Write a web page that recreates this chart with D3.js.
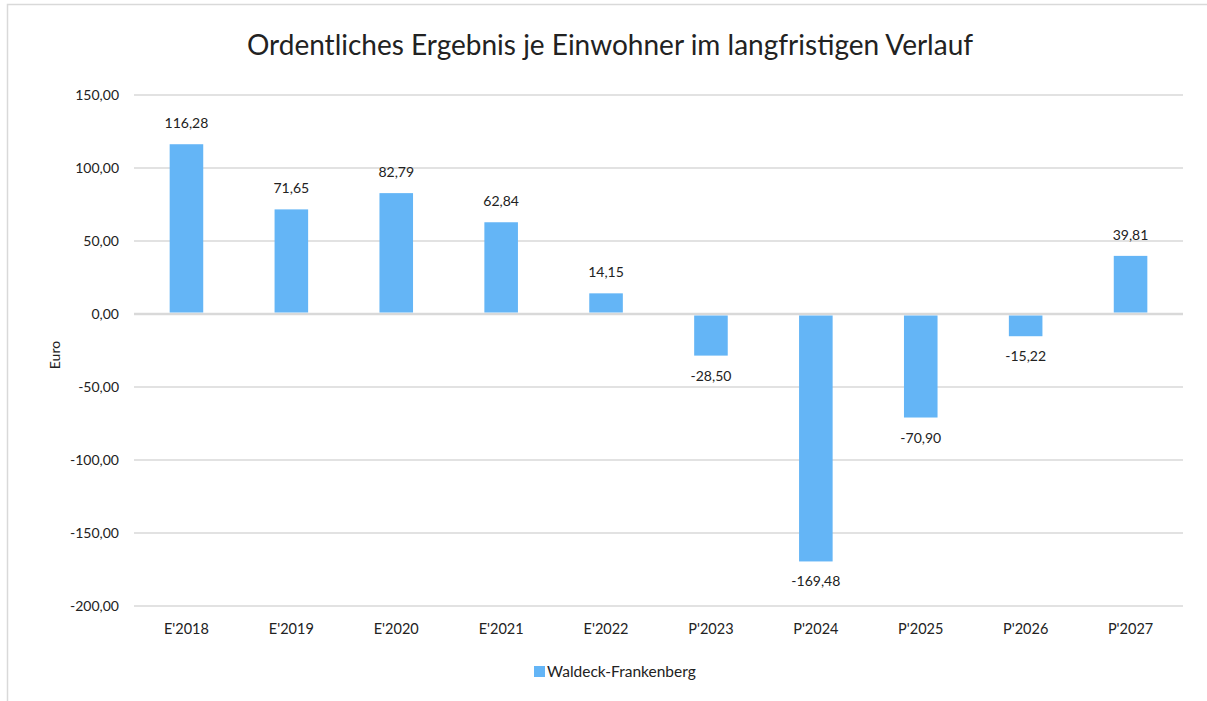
<!DOCTYPE html>
<html>
<head>
  <meta charset="utf-8">
  <script src="https://cdn.jsdelivr.net/npm/d3@7"></script>
  <style>
    body { margin: 0; background: #fff; font-family: Lato, "Noto Sans", sans-serif; }
    svg { display: block; }
  </style>
</head>
<body>
  <svg width="1207" height="701"></svg>
  <script>
    // chart data
    var categories = ["E'2018", "E'2019", "E'2020", "E'2021", "E'2022", "P'2023", "P'2024", "P'2025", "P'2026", "P'2027"];
    var values = [116.28, 71.65, 82.79, 62.84, 14.15, -28.50, -169.48, -70.90, -15.22, 39.81];
    var yTicks = [150, 100, 50, 0, -50, -100, -150, -200];
    var seriesName = "Waldeck-Frankenberg";
    var title = "Ordentliches Ergebnis je Einwohner im langfristigen Verlauf";

    var svg = d3.select("svg");
    var barColour = "#64B5F6";
    // german decimal comma, plain hyphen for minus
    var fmt = function(v) { return v.toFixed(2).replace(".", ","); };

    // outer frame (left + top only visible)
    svg.append("path")
      .attr("d", "M7.5,701 V4.5 H1207")
      .attr("fill", "none")
      .attr("stroke", "#d9d9d9")
      .attr("stroke-width", 1.5);

    var x = d3.scaleBand()
      .domain(categories)
      .range([134, 1183])
      .paddingInner(0.68)
      .paddingOuter(0.34);

    var y = d3.scaleLinear()
      .domain([-200, 150])
      .range([606, 95]);

    // gridlines
    svg.append("g")
      .selectAll("line")
      .data(yTicks)
      .enter()
      .append("line")
      .attr("x1", 134)
      .attr("x2", 1183)
      .attr("y1", function(d) { return y(d); })
      .attr("y2", function(d) { return y(d); })
      .attr("stroke", "#d9d9d9")
      .attr("stroke-width", function(d) { return d == 0 ? 2.5 : 1.5; });

    // y tick labels
    svg.append("g")
      .selectAll("text")
      .data(yTicks)
      .enter()
      .append("text")
      .attr("x", 119)
      .attr("y", function(d) { return y(d); })
      .attr("dy", "0.35em")
      .attr("text-anchor", "end")
      .attr("font-size", "14px")
      .attr("fill", "#222")
      .text(fmt);

    // bars
    svg.append("g")
      .selectAll("rect")
      .data(values)
      .enter()
      .append("rect")
      .attr("x", function(d, i) { return x(categories[i]); })
      .attr("width", x.bandwidth())
      .attr("y", function(d) { return d >= 0 ? y(d) : y(0) + 1.5; })
      .attr("height", function(d) { return d >= 0 ? y(0) - 1.5 - y(d) : y(d) - y(0) - 1.5; })
      .attr("fill", barColour);

    // value labels
    svg.append("g")
      .selectAll("text")
      .data(values)
      .enter()
      .append("text")
      .attr("x", function(d, i) { return x(categories[i]) + x.bandwidth() / 2; })
      .attr("y", function(d) { return d >= 0 ? y(d) - 16 : y(d) + 25; })
      .attr("text-anchor", "middle")
      .attr("font-size", "14px")
      .attr("fill", "#222")
      .text(fmt);

    // x category labels
    svg.append("g")
      .selectAll("text")
      .data(categories)
      .enter()
      .append("text")
      .attr("x", function(d) { return x(d) + x.bandwidth() / 2; })
      .attr("y", 634)
      .attr("text-anchor", "middle")
      .attr("font-size", "14.5px")
      .attr("fill", "#222")
      .text(function(d) { return d; });

    // title
    svg.append("text")
      .attr("x", 610)
      .attr("y", 55)
      .attr("text-anchor", "middle")
      .attr("font-size", "28px")
      .attr("fill", "#222")
      .text(title);

    // y axis title
    svg.append("text")
      .attr("transform", "translate(60,355) rotate(-90)")
      .attr("text-anchor", "middle")
      .attr("font-size", "14px")
      .attr("fill", "#222")
      .text("Euro");

    // legend
    var legend = svg.append("g").attr("transform", "translate(534,666)");
    legend.append("rect")
      .attr("width", 11)
      .attr("height", 11)
      .attr("fill", barColour);
    legend.append("text")
      .attr("x", 13)
      .attr("y", 6)
      .attr("dy", "0.35em")
      .attr("font-size", "15.5px")
      .attr("fill", "#222")
      .text(seriesName);
  </script>
</body>
</html>
